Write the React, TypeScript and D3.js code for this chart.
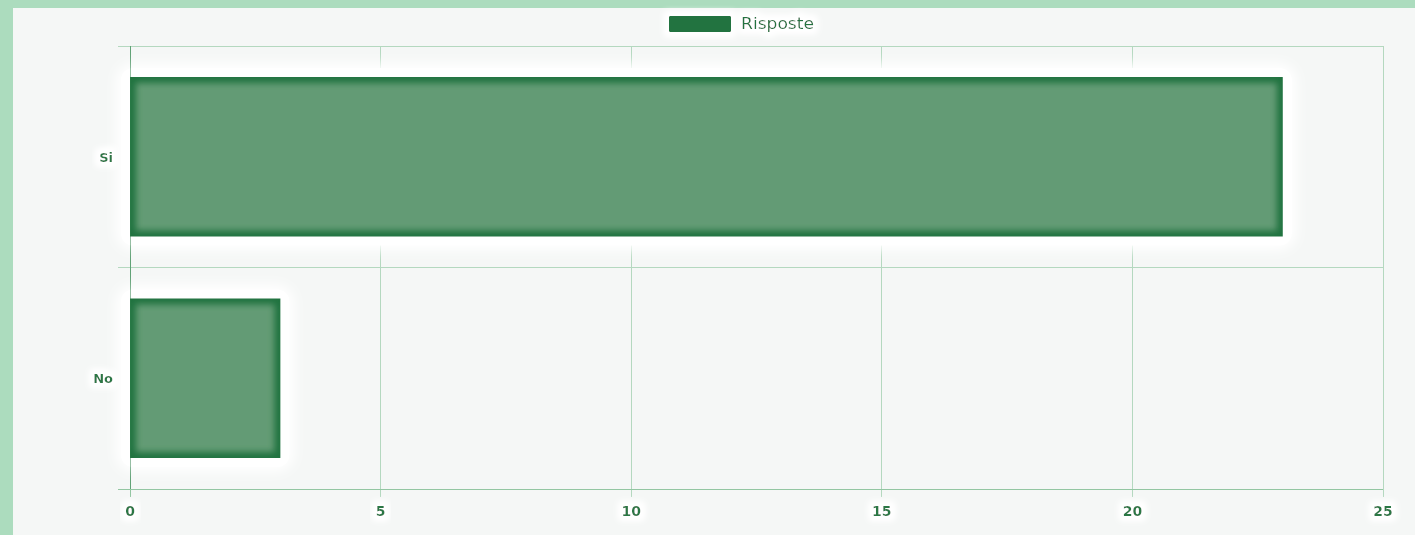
import React, { useEffect, useRef } from "react";
import * as d3 from "d3";

const categories = ["Si", "No"];
const values = [23, 3];
const seriesName = "Risposte";
const xTicks = [0, 5, 10, 15, 20, 25];

const W = 1415;
const H = 535;

export default function App() {
  const ref = useRef<SVGSVGElement>(null);

  useEffect(() => {
    const svg = d3.select(ref.current);
    svg.selectAll("*").remove();

    const left = 130, right = 1383, top = 46, bottom = 489;
    const dark = "#217340";
    const light = "#639b75";
    const grid = "#b4d8bf";
    const labelCol = "#2a7845";

    const defs = svg.append("defs");
    const glow = defs.append("filter").attr("id", "glow")
      .attr("x", "-50%").attr("y", "-50%").attr("width", "200%").attr("height", "200%");
    glow.append("feMorphology").attr("in", "SourceAlpha").attr("operator", "dilate").attr("radius", 4).attr("result", "d");
    glow.append("feFlood").attr("flood-color", "#ffffff");
    glow.append("feComposite").attr("in2", "d").attr("operator", "in");
    glow.append("feGaussianBlur").attr("stdDeviation", 3).attr("result", "g");
    const gm = glow.append("feMerge");
    gm.append("feMergeNode").attr("in", "g");
    gm.append("feMergeNode").attr("in", "g");
    gm.append("feMergeNode").attr("in", "SourceGraphic");

    const soft = defs.append("filter").attr("id", "soft")
      .attr("x", "-20%").attr("y", "-20%").attr("width", "140%").attr("height", "140%");
    soft.append("feGaussianBlur").attr("stdDeviation", 6);

    const inner = defs.append("filter").attr("id", "inner")
      .attr("x", "-10%").attr("y", "-10%").attr("width", "120%").attr("height", "120%");
    inner.append("feGaussianBlur").attr("stdDeviation", 3);

    // frame
    svg.append("rect").attr("width", W).attr("height", H).attr("fill", "#acdcbe");
    svg.append("rect").attr("x", 13).attr("y", 8).attr("width", W - 13).attr("height", H - 8).attr("fill", "#f5f7f6");

    const x = d3.scaleLinear().domain([0, 25]).range([left, right]);
    const y = d3.scaleBand().domain(categories).range([top, bottom]).paddingInner(0.28).paddingOuter(0.14);
    const yb = d3.scaleBand().domain(categories).range([top, bottom]);

    // grid
    const g = svg.append("g");
    g.selectAll("line.v").data(xTicks).join("line")
      .attr("x1", d => x(d)).attr("x2", d => x(d)).attr("y1", top).attr("y2", bottom + 8)
      .attr("stroke", grid).attr("stroke-width", 1).attr("shape-rendering", "crispEdges");
    const hLines = [top, ...categories.map(c => (yb(c) as number) + yb.bandwidth())];
    g.selectAll("line.h").data(hLines).join("line")
      .attr("x1", left - 12).attr("x2", right).attr("y1", d => d).attr("y2", d => d)
      .attr("stroke", grid).attr("stroke-width", 1).attr("shape-rendering", "crispEdges");
    g.append("line").attr("x1", left).attr("x2", left).attr("y1", top).attr("y2", bottom + 8)
      .attr("stroke", "#93c6a2").attr("shape-rendering", "crispEdges");
    g.append("line").attr("x1", left - 12).attr("x2", right).attr("y1", bottom).attr("y2", bottom)
      .attr("stroke", "#93c6a2").attr("shape-rendering", "crispEdges");

    // bars
    const data = categories.map((c, i) => ({ c, v: values[i] }));
    const bars = svg.append("g");
    bars.selectAll("rect.halo").data(data).join("rect")
      .attr("x", x(0) - 14).attr("y", d => (y(d.c) as number) - 14)
      .attr("width", d => x(d.v) - x(0) + 28).attr("height", y.bandwidth() + 28)
      .attr("rx", 18).attr("fill", "#ffffff").attr("filter", "url(#soft)");
    bars.selectAll("rect.halo2").data(data).join("rect")
      .attr("x", x(0) - 9).attr("y", d => (y(d.c) as number) - 9)
      .attr("width", d => x(d.v) - x(0) + 18).attr("height", y.bandwidth() + 18)
      .attr("rx", 12).attr("fill", "#ffffff");
    bars.selectAll("rect.bar").data(data).join("rect")
      .attr("x", x(0)).attr("y", d => y(d.c) as number)
      .attr("width", d => x(d.v) - x(0)).attr("height", y.bandwidth())
      .attr("fill", dark);
    data.forEach((d, i) => {
      const cp = defs.append("clipPath").attr("id", `clip${i}`);
      cp.append("rect").attr("x", x(0)).attr("y", y(d.c) as number)
        .attr("width", x(d.v) - x(0)).attr("height", y.bandwidth());
      bars.append("g").attr("clip-path", `url(#clip${i})`)
        .append("rect")
        .attr("x", x(0) + 6).attr("y", (y(d.c) as number) + 6)
        .attr("width", x(d.v) - x(0) - 12).attr("height", y.bandwidth() - 12)
        .attr("fill", light).attr("filter", "url(#inner)");
    });
    // axis line over bars
    svg.append("line").attr("x1", left).attr("x2", left).attr("y1", top).attr("y2", bottom)
      .attr("stroke", "#2e7d4a").attr("stroke-opacity", 0.5).attr("shape-rendering", "crispEdges");

    // labels
    const font = "'DejaVu Sans', Verdana, sans-serif";
    svg.append("g").selectAll("text").data(xTicks).join("text")
      .attr("x", d => x(d)).attr("y", bottom + 27)
      .attr("text-anchor", "middle").attr("font-family", font).attr("font-size", 14)
      .attr("font-weight", "bold").attr("fill", labelCol).attr("filter", "url(#glow)")
      .text(d => d);
    svg.append("g").selectAll("text").data(categories).join("text")
      .attr("x", left - 17).attr("y", d => (yb(d) as number) + yb.bandwidth() / 2 + 5)
      .attr("text-anchor", "end").attr("font-family", font).attr("font-size", 13)
      .attr("font-weight", "bold").attr("fill", labelCol).attr("filter", "url(#glow)")
      .text(d => d);

    // legend
    const lg = svg.append("g").attr("filter", "url(#glow)");
    lg.append("rect").attr("x", 669).attr("y", 16).attr("width", 62).attr("height", 16)
      .attr("rx", 1).attr("fill", dark);
    lg.append("text").attr("x", 741).attr("y", 29).attr("font-family", font).attr("font-size", 16)
      .attr("textLength", 73).attr("lengthAdjust", "spacingAndGlyphs")
      .attr("fill", dark).text(seriesName);
  }, []);

  return (
    <svg ref={ref} width={W} height={H}
      style={{ position: "absolute", left: 0, top: 0, display: "block" }} />
  );
}
